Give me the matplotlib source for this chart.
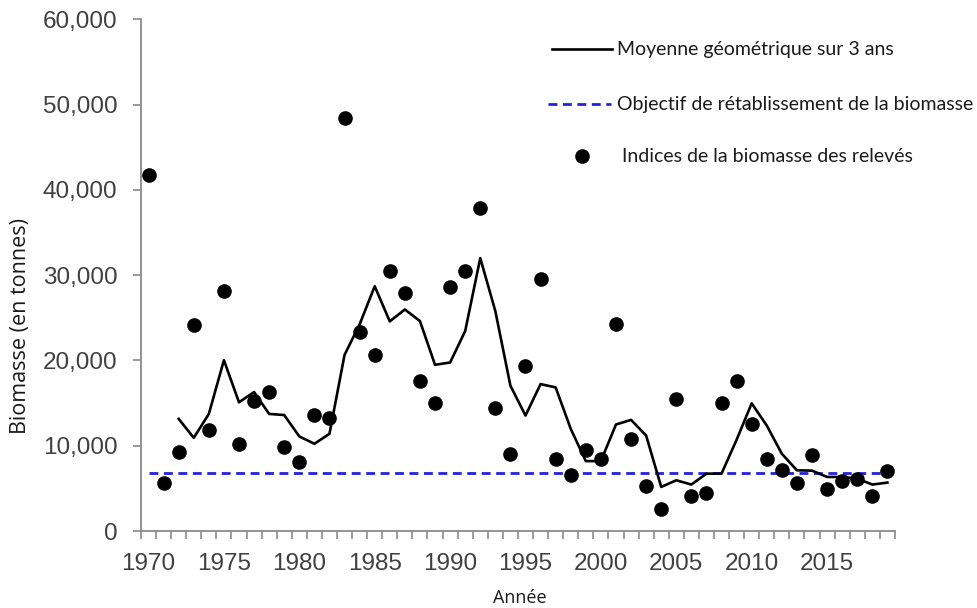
import matplotlib
matplotlib.use('Agg')
from matplotlib import pyplot as plt
from matplotlib.lines import Line2D
from matplotlib.ticker import FuncFormatter, MultipleLocator
import numpy as np

# relevés (points) 1970-2019
years = np.arange(1970, 2020)
survey = [41700, 5600, 9250, 24150, 11800, 28200, 10230, 15300, 16250, 9900,
          8100, 13600, 13300, 48400, 23350, 20650, 30500, 27950, 17600, 15000,
          28600, 30450, 37850, 14400, 9000, 19300, 29560, 8400, 6600, 9500,
          8480, 24300, 10800, 5250, 2570, 15480, 4120, 4510, 15000, 17620,
          12560, 8480, 7200, 5680, 8870, 4900, 5870, 6150, 4120, 7040]

# moyenne géométrique sur 3 ans, 1972-2019
geo_years = np.arange(1972, 2020)
geo_mean = [13150, 10930, 13730, 20030, 15090, 16300, 13730, 13600, 11090, 10230,
            11400, 20650, 24230, 28700, 24580, 25980, 24620, 19490, 19760, 23450,
            32000, 25790, 17040, 13540, 17230, 16840, 11980, 8200, 8200, 12490,
            13030, 11200, 5170, 5950, 5450, 6730, 6730, 10700, 14970, 12370,
            9060, 7120, 7080, 6340, 6340, 6150, 5450, 5680]

target = 6800
target_years = [1970, 2019]

label_years = [1970, 1975, 1980, 1985, 1990, 1995, 2000, 2005, 2010, 2015]

fig = plt.figure(figsize=(9.77, 6.08), dpi=100)
ax = fig.add_axes([0.1443, 0.1266, 0.7717, 0.8416])

ax.plot(geo_years, geo_mean, color='black', lw=1.9, zorder=3)
ax.plot(target_years, [target, target], color='#2222dd', lw=2.0,
        dashes=(3.2, 2.0), zorder=2)
ax.plot(years, survey, 'o', color='black', ms=9.5, zorder=4)

ax.set_xlim(1969.5, 2019.5)
ax.set_ylim(0, 60000)

gray = '#8a8a8a'
for side in ['top', 'right']:
    ax.spines[side].set_visible(False)
for side in ['left', 'bottom']:
    ax.spines[side].set_color(gray)
    ax.spines[side].set_linewidth(1.3)

ax.yaxis.set_major_locator(MultipleLocator(10000))
ax.yaxis.set_major_formatter(FuncFormatter(lambda v, p: f'{int(v):,}'))
ax.tick_params(axis='y', colors=gray, labelcolor='#404040', length=6,
               width=1.2, labelsize=17.5, pad=11)
for t in ax.get_yticklabels():
    t.set_fontfamily('Liberation Sans')

ax.set_xticks(label_years)
ax.set_xticklabels([str(y) for y in label_years], fontsize=17.5,
                   family='Liberation Sans', color='#404040')
ax.set_xticks(np.arange(1969.5, 2020, 1), minor=True)
ax.tick_params(axis='x', which='major', length=0, pad=16)
ax.tick_params(axis='x', which='minor', colors=gray, length=6, width=1.2)

fig.text(0.0205, 0.464, 'Biomasse (en tonnes)', rotation=90, ha='center',
         va='center', fontsize=15.5, family='Open Sans', color='#1a1a1a')
fig.text(0.532, 0.017, 'Année', ha='center', va='center', fontsize=13,
         family='Open Sans', color='#1a1a1a')

# légende
fig.add_artist(Line2D([0.565, 0.626], [0.9194, 0.9194], color='black', lw=1.9))
fig.add_artist(Line2D([0.561, 0.625], [0.8289, 0.8289], color='#2222dd',
                      lw=2.0, dashes=(3.2, 2.0)))
fig.add_artist(Line2D([0.5955], [0.7434], marker='o', color='black', ms=9.5))
fig.text(0.6315, 0.9194, 'Moyenne géométrique sur 3 ans', va='center',
         fontsize=14, family='Lato', color='#1a1a1a')
fig.text(0.6315, 0.8289, 'Objectif de rétablissement de la biomasse',
         va='center', fontsize=14, family='Lato', color='#1a1a1a')
fig.text(0.6365, 0.7434, 'Indices de la biomasse des relevés', va='center',
         fontsize=14, family='Lato', color='#1a1a1a')

fig.savefig('out.png', dpi=100)
